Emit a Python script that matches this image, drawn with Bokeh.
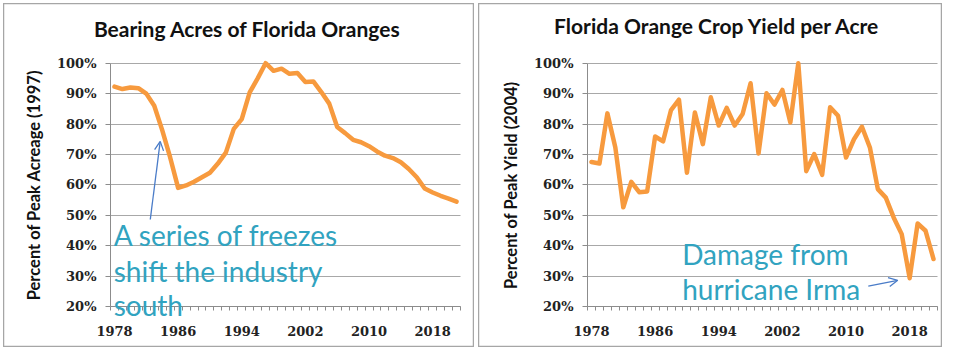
from bokeh.plotting import figure
from bokeh.layouts import row
from bokeh.models import (FixedTicker, PrintfTickFormatter, Label, Arrow, OpenHead,
                          Range1d, ColumnDataSource)
from bokeh.embed import file_html
from bokeh.resources import INLINE

years = list(range(1978, 2022))
acres_pct = [92.3, 91.5, 92.0, 91.8, 90.0, 86.0, 78.0, 69.0, 59.0, 59.8,
             61.0, 62.5, 64.0, 67.0, 70.6, 78.4, 81.6, 90.4, 95.0, 100.0,
             97.5, 98.2, 96.5, 96.8, 93.8, 94.0, 90.5, 86.7, 79.0, 77.0,
             74.8, 74.0, 72.7, 71.0, 69.6, 68.8, 67.4, 65.2, 62.5, 58.8,
             57.5, 56.4, 55.5, 54.5]
yield_pct = [67.5, 67.0, 83.5, 72.3, 52.6, 61.0, 57.6, 57.8, 75.9, 74.3,
             84.6, 88.0, 64.0, 83.8, 73.4, 88.8, 79.5, 85.3, 79.5, 83.3,
             93.4, 70.3, 90.1, 86.4, 91.2, 80.5, 100.0, 64.5, 70.1, 63.3,
             85.5, 82.7, 69.0, 75.0, 79.1, 72.3, 58.6, 55.8, 49.2, 43.8,
             29.3, 47.3, 44.9, 35.6]
year_ticks = [1978, 1986, 1994, 2002, 2010, 2018]
pct_ticks = [20, 30, 40, 50, 60, 70, 80, 90, 100]

titles = ["Bearing Acres of Florida Oranges", "Florida Orange Crop Yield per Acre"]
ylabels = ["Percent of Peak Acreage (1997)", "Percent of Peak Yield (2004)"]

ORANGE = "#F79A3E"
TEAL = "#31A3C0"
BLUE = "#4A7CC8"
GRID = "#A8A8A8"
AXIS = "#8C8C8C"
TICKFONT = "DejaVu Serif"
SANS = "Lato"

PX_PER_YEAR = 350 / 44.0
PX_PER_PCT = 243.3 / 80.0
FIG_H = 344
FRAME_TOP = 59.7


def make_panel(vals, title, ylabel, fig_w, frame_left, title_x, title_y, margin):
    x0 = years[0] - 0.5
    x1 = years[-1] + 0.5
    xs = x0 - frame_left / PX_PER_YEAR
    xe = xs + fig_w / PX_PER_YEAR
    ye = pct_ticks[-1] + FRAME_TOP / PX_PER_PCT
    ys = ye - FIG_H / PX_PER_PCT
    p = figure(width=fig_w, height=FIG_H, output_backend="svg", toolbar_location=None,
               x_range=Range1d(xs, xe), y_range=Range1d(ys, ye),
               min_border=0, min_border_left=0, min_border_right=0,
               min_border_top=0, min_border_bottom=0,
               background_fill_color="white", border_fill_color="white",
               outline_line_color="#A6A6A6", outline_line_width=1.5,
               margin=margin)
    src = ColumnDataSource(dict(x=years, y=vals))
    p.line("x", "y", source=src, line_color=ORANGE, line_width=4.5,
           line_join="round", line_cap="round")

    p.xgrid.grid_line_color = None
    p.ygrid.grid_line_color = GRID
    p.ygrid.grid_line_width = 1.2
    p.ygrid.ticker = FixedTicker(ticks=pct_ticks)
    p.ygrid.bounds = (pct_ticks[0], pct_ticks[-1])
    p.ygrid.cross_bounds = (x0, x1)

    xa = p.xaxis[0]
    xa.fixed_location = pct_ticks[0]
    xa.bounds = (x0, x1)
    xa.ticker = FixedTicker(ticks=year_ticks,
                            minor_ticks=[y - 0.5 for y in years] + [x1])
    xa.axis_line_color = AXIS
    xa.major_tick_line_color = None
    xa.major_tick_out = 4
    xa.major_tick_in = 0
    xa.minor_tick_line_color = AXIS
    xa.minor_tick_out = 4
    xa.minor_tick_in = 0
    xa.major_label_standoff = 15
    xa.major_label_text_font = TICKFONT
    xa.major_label_text_font_style = "bold"
    xa.major_label_text_font_size = "13px"
    xa.major_label_text_color = "#222222"

    ya = p.yaxis[0]
    ya.fixed_location = x0
    ya.bounds = (pct_ticks[0], pct_ticks[-1])
    ya.ticker = FixedTicker(ticks=pct_ticks)
    ya.formatter = PrintfTickFormatter(format="%d%%")
    ya.axis_line_color = AXIS
    ya.major_tick_line_color = AXIS
    ya.major_tick_out = 5
    ya.major_tick_in = 0
    ya.minor_tick_line_color = None
    ya.major_label_standoff = 9
    ya.major_label_text_font = TICKFONT
    ya.major_label_text_font_style = "bold"
    ya.major_label_text_font_size = "13px"
    ya.major_label_text_color = "#222222"
    ya.axis_label = ylabel
    ya.axis_label_text_font = SANS
    ya.axis_label_text_font_style = "bold"
    ya.axis_label_text_font_size = "16.5px"
    ya.axis_label_text_color = "#111111"
    ya.axis_label_standoff = 10

    p.add_layout(Label(x=title_x, y=title_y, text=title, text_align="center",
                       text_baseline="alphabetic", text_font=SANS,
                       text_font_style="bold", text_font_size="21px",
                       text_color="#111111"))
    return p


p1 = make_panel(acres_pct, titles[0], ylabels[0], 471, 107, 1994.7, 111.5, (3, 0, 0, 3))
p2 = make_panel(yield_pct, titles[1], ylabels[1], 464, 109, 1993.8, 112.3, (3, 0, 0, 4))

# annotations, left panel
for txt, yy in [("A series of freezes", 43.5), ("shift the industry", 31.75), ("south", 20.35)]:
    p1.add_layout(Label(x=1977.9, y=yy, text=txt, text_align="left",
                        text_baseline="alphabetic", text_font=SANS,
                        text_font_size="28px", text_color=TEAL))
p1.add_layout(Arrow(end=OpenHead(size=9, line_color=BLUE, line_width=1.3),
                    x_start=1982.5, y_start=48.6, x_end=1983.75, y_end=74.3,
                    line_color=BLUE, line_width=1.3))

# annotations, right panel
for txt, yy in [("Damage from", 37.15), ("hurricane Irma", 25.65)]:
    p2.add_layout(Label(x=1989.4, y=yy, text=txt, text_align="left",
                        text_baseline="alphabetic", text_font=SANS,
                        text_font_size="28px", text_color=TEAL))
p2.add_layout(Arrow(end=OpenHead(size=9, line_color=BLUE, line_width=1.3),
                    x_start=2012.8, y_start=26.7, x_end=2016.5, y_end=28.6,
                    line_color=BLUE, line_width=1.3))

layout = row(p1, p2)
open("out.html", "w").write(file_html(layout, INLINE))
